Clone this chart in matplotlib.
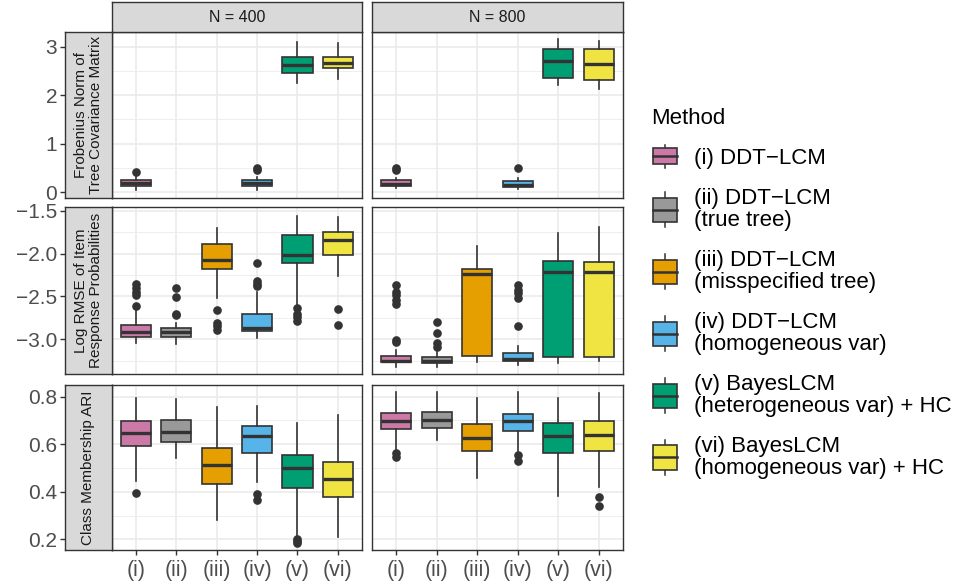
import matplotlib
matplotlib.use("Agg")
import matplotlib.pyplot as plt
from matplotlib.patches import Patch, Rectangle
from matplotlib.lines import Line2D
from matplotlib.legend_handler import HandlerBase

plt.rcParams['font.family'] = ['Liberation Sans', 'DejaVu Sans']

methods = ["(i)", "(ii)", "(iii)", "(iv)", "(v)", "(vi)"]
method_labels = ["(i) DDT\u2212LCM",
                 "(ii) DDT\u2212LCM\n(true tree)",
                 "(iii) DDT\u2212LCM\n(misspecified tree)",
                 "(iv) DDT\u2212LCM\n(homogeneous var)",
                 "(v) BayesLCM\n(heterogeneous var) + HC",
                 "(vi) BayesLCM\n(homogeneous var) + HC"]
colors = ["#CC79A7", "#999999", "#E69F00", "#56B4E9", "#009E73", "#F0E442"]
sample_sizes = ["N = 400", "N = 800"]
row_titles = ["Frobenius Norm of\nTree Covariance Matrix",
              "Log RMSE of Item\nResponse Probabilities",
              "Class Membership ARI"]

# box summaries per method: [lower whisker, q1, median, q3, upper whisker]
# None -> metric not available for that method
frob_400 = [[0.05, 0.12, 0.19, 0.26, 0.33], None, None,
            [0.04, 0.12, 0.18, 0.25, 0.32],
            [2.25, 2.46, 2.63, 2.79, 3.10],
            [2.34, 2.55, 2.67, 2.78, 3.07]]
frob_400_out = [[0.42], [], [], [0.45, 0.49], [], []]
frob_800 = [[0.08, 0.12, 0.16, 0.25, 0.30], None, None,
            [0.06, 0.11, 0.14, 0.23, 0.30],
            [2.20, 2.36, 2.71, 2.94, 3.15],
            [2.13, 2.31, 2.64, 2.95, 3.12]]
frob_800_out = [[0.46, 0.49], [], [], [0.49], [], []]

rmse_400 = [[-3.047, -2.970, -2.911, -2.833, -2.658],
            [-3.055, -2.970, -2.911, -2.865, -2.806],
            [-2.522, -2.180, -2.075, -1.888, -1.705],
            [-2.988, -2.903, -2.872, -2.708, -2.445],
            [-2.620, -2.106, -2.016, -1.783, -1.558],
            [-2.261, -2.016, -1.841, -1.751, -1.569]]
rmse_400_out = [[-2.35, -2.40, -2.45, -2.48, -2.61],
                [-2.40, -2.51, -2.70, -2.72],
                [-2.66, -2.81, -2.85, -2.89],
                [-2.11, -2.32, -2.35, -2.38],
                [-2.64, -2.70, -2.74, -2.79],
                [-2.65, -2.83]]
rmse_800 = [[-3.320, -3.268, -3.253, -3.191, -3.125],
            [-3.320, -3.280, -3.250, -3.210, -3.152],
            [-3.268, -3.191, -2.241, -2.180, -1.908],
            [-3.300, -3.250, -3.230, -3.163, -3.075],
            [-3.280, -3.203, -2.218, -2.083, -1.763],
            [-3.253, -3.203, -2.211, -2.095, -1.686]]
rmse_800_out = [[-2.37, -2.45, -2.48, -2.54, -2.59, -3.01, -3.03],
                [-2.80, -2.93, -3.04, -3.09],
                [],
                [-2.37, -2.43, -2.46, -2.52, -2.85],
                [], []]

ari_400 = [[0.446, 0.594, 0.648, 0.699, 0.793],
           [0.541, 0.608, 0.650, 0.702, 0.790],
           [0.281, 0.431, 0.512, 0.585, 0.758],
           [0.442, 0.562, 0.636, 0.678, 0.762],
           [0.211, 0.417, 0.499, 0.555, 0.688],
           [0.211, 0.379, 0.454, 0.524, 0.723]]
ari_400_out = [[0.393], [], [], [0.389, 0.365], [0.201, 0.193, 0.183], []]
ari_800 = [[0.576, 0.664, 0.699, 0.732, 0.818],
           [0.618, 0.667, 0.702, 0.737, 0.821],
           [0.457, 0.573, 0.627, 0.685, 0.795],
           [0.571, 0.655, 0.697, 0.726, 0.818],
           [0.383, 0.562, 0.634, 0.688, 0.793],
           [0.421, 0.571, 0.639, 0.697, 0.814]]
ari_800_out = [[0.562, 0.547], [], [], [0.555, 0.529], [], [0.377, 0.340]]

panels = [[(frob_400, frob_400_out), (frob_800, frob_800_out)],
          [(rmse_400, rmse_400_out), (rmse_800, rmse_800_out)],
          [(ari_400, ari_400_out), (ari_800, ari_800_out)]]
ylims = [(-0.12, 3.30), (-3.405, -1.457), (0.155, 0.849)]
major = [[0, 1, 2, 3], [-3.0, -2.5, -2.0, -1.5], [0.2, 0.4, 0.6, 0.8]]
minor = [[0.5, 1.5, 2.5], [-3.25, -2.75, -2.25, -1.75], [0.3, 0.5, 0.7]]
ylabels = [["0", "1", "2", "3"], ["\u22123.0", "\u22122.5", "\u22122.0", "\u22121.5"],
           ["0.2", "0.4", "0.6", "0.8"]]

W, H = 956, 586
dark = "#333333"
grid = "#EBEBEB"
fig = plt.figure(figsize=(W / 100, H / 100), dpi=100)

col_px = [(111.7, 362), (372, 623)]
row_px = [(32, 198), (207, 374), (385, 550)]


def add_px(x0, y0, x1, y1, **kw):
    return fig.add_axes([x0 / W, 1 - y1 / H, (x1 - x0) / W, (y1 - y0) / H], **kw)


for r in range(3):
    y0, y1 = row_px[r]
    left_ax = None
    for c in range(2):
        x0, x1 = col_px[c]
        ax = add_px(x0, y0, x1, y1, sharey=left_ax)
        if left_ax is None:
            left_ax = ax
        vals, outs = panels[r][c]
        stats, pos = [], []
        for i, v in enumerate(vals):
            if v is None:
                continue
            stats.append(dict(whislo=v[0], q1=v[1], med=v[2], q3=v[3], whishi=v[4],
                              fliers=outs[i]))
            pos.append(i + 1)
        bp = ax.bxp(stats, positions=pos, widths=0.75, patch_artist=True,
                    showcaps=False, manage_ticks=False,
                    boxprops=dict(edgecolor=dark, linewidth=1.2),
                    medianprops=dict(color=dark, linewidth=2.4),
                    whiskerprops=dict(color=dark, linewidth=1.2),
                    flierprops=dict(marker='o', markerfacecolor=dark,
                                    markeredgecolor=dark, markersize=5.2))
        for patch, p in zip(bp['boxes'], pos):
            patch.set_facecolor(colors[p - 1])
        ax.set_xlim(0.4, 6.6)
        ax.set_ylim(*ylims[r])
        ax.set_xticks(range(1, 7))
        ax.set_xticklabels(methods)
        ax.set_yticks(major[r])
        ax.set_yticks(minor[r], minor=True)
        ax.set_axisbelow(True)
        ax.grid(which='major', color=grid, linewidth=1.2)
        ax.grid(which='minor', axis='y', color=grid, linewidth=0.6)
        ax.tick_params(which='both', left=False, labelleft=False)
        ax.tick_params(axis='x', bottom=(r == 2), labelbottom=(r == 2),
                       length=3.5, width=1.0, color=dark, labelsize=15.5,
                       labelcolor="#4D4D4D", pad=4)
        for s in ax.spines.values():
            s.set_color(dark)
            s.set_linewidth(1.0)
        if r == 0:
            st = add_px(x0, 2, x1, 32)
            st.set_facecolor("#D9D9D9")
            st.set_xticks([])
            st.set_yticks([])
            for s in st.spines.values():
                s.set_color(dark)
                s.set_linewidth(1.0)
            st.text(0.5, 0.5, sample_sizes[c], transform=st.transAxes, ha='center',
                    va='center', fontsize=11.5, color="#1A1A1A")

    # row strip on the left, carries the y axis
    st = add_px(65, y0, 111.7, y1, sharey=left_ax)
    st.set_facecolor("#D9D9D9")
    st.set_xticks([])
    st.set_yticks(major[r])
    st.set_yticklabels(ylabels[r])
    st.tick_params(axis='y', which='major', length=3.5, width=1.0, color=dark,
                   labelsize=15, labelcolor="#4D4D4D", pad=2)
    st.tick_params(axis='y', which='minor', length=0)
    for s in st.spines.values():
        s.set_color(dark)
        s.set_linewidth(1.0)
    st.text(0.5, 0.5, row_titles[r], transform=st.transAxes, rotation=90,
            ha='center', va='center', fontsize=11, color="#1A1A1A",
            linespacing=1.05, multialignment='center')


class BoxKey(HandlerBase):
    def create_artists(self, legend, orig_handle, xdescent, ydescent, width, height,
                       fontsize, trans):
        two = '\n' in orig_handle.get_label()
        bh = 17.3 if two else 11.5
        wh = 25.0 if two else 16.6
        bw = 17.3
        cx = -xdescent + width / 2
        cy = -ydescent + height / 2
        whisk = Line2D([cx, cx], [cy - wh / 2, cy + wh / 2], color=dark, lw=1.1,
                       transform=trans)
        box = Rectangle((cx - bw / 2, cy - bh / 2), bw, bh,
                        facecolor=orig_handle.get_facecolor(), edgecolor=dark,
                        lw=1.2, transform=trans)
        med = Line2D([cx - bw / 2, cx + bw / 2], [cy, cy], color=dark, lw=1.8,
                     transform=trans)
        return [whisk, box, med]


handles = [Patch(facecolor=c, label=l) for c, l in zip(colors, method_labels)]
leg = fig.legend(handles=handles, labels=method_labels,
                 handler_map={Patch: BoxKey()}, loc='upper left',
                 bbox_to_anchor=(651 / W, 1 - 108 / H), frameon=False,
                 fontsize=16, title="Method", title_fontsize=16, alignment='left',
                 handlelength=1.22, handletextpad=0.7, labelspacing=0.86,
                 borderpad=0, borderaxespad=0)
for t in leg.get_texts():
    t.set_linespacing(1.05)

fig.savefig("out.png", dpi=100)
